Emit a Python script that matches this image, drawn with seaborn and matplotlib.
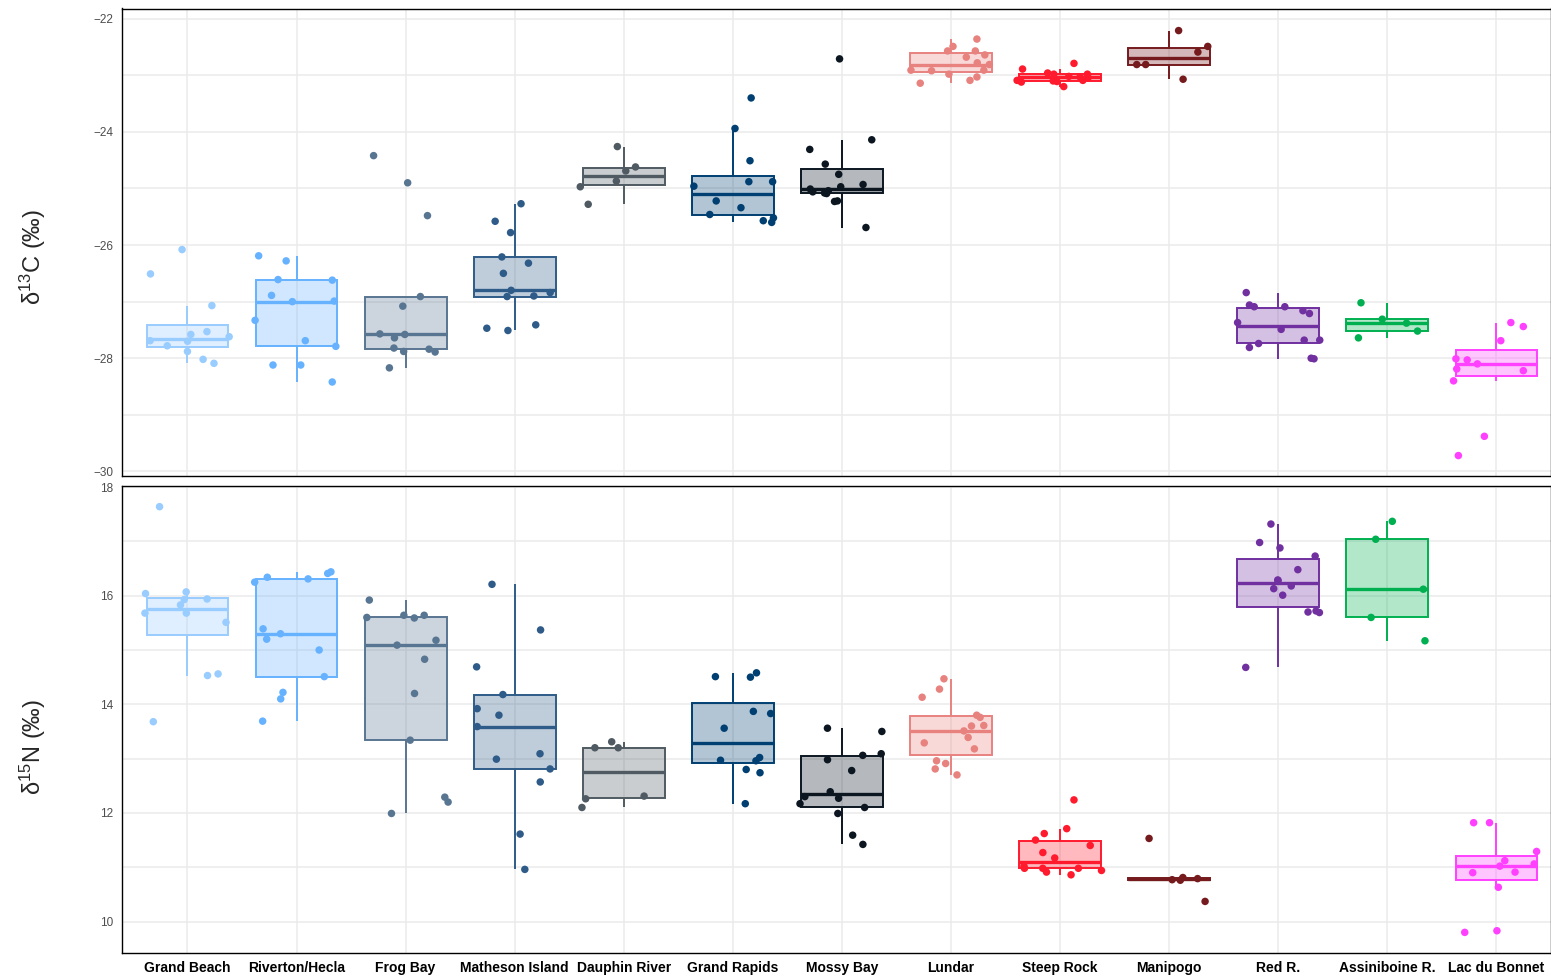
import numpy as np
import pandas as pd
import matplotlib
matplotlib.use("Agg")
import matplotlib.pyplot as plt
import seaborn as sns
from matplotlib.ticker import MultipleLocator
from matplotlib.colors import to_rgb

# ---------------- data ----------------
sites = ["Grand Beach", "Riverton/Hecla", "Frog Bay", "Matheson Island", "Dauphin River",
         "Grand Rapids", "Mossy Bay", "Lundar", "Steep Rock", "Manipogo", "Red R.",
         "Assiniboine R.", "Lac du Bonnet"]
site_colors = ["#99CCFF", "#66B2FF", "#587591", "#2E5B88", "#4F5A62", "#003F72", "#0B1621",
               "#E8827F", "#FF1A2E", "#751A1D", "#7030A0", "#00B050", "#FF40FF"]

# delta 13C (permil)
c13_grand_beach = [-26.51, -27.07, -26.08, -27.53, -27.62, -27.58, -27.70, -27.69, -27.78, -27.88, -28.02, -28.09]
c13_riverton = [-26.28, -26.19, -26.61, -26.62, -26.89, -27.00, -26.99, -27.33, -27.69, -27.79, -28.12, -28.12, -28.42]
c13_frog_bay = [-24.42, -24.90, -25.48, -26.91, -27.08, -27.57, -27.58, -27.64, -27.88, -27.82, -27.89, -27.84, -28.17]
c13_matheson = [-25.27, -25.58, -25.78, -26.21, -26.32, -26.50, -26.80, -26.90, -26.91, -26.84, -27.47, -27.41, -27.51]
c13_dauphin = [-24.26, -24.62, -24.69, -24.87, -24.97, -25.28]
c13_grand_rapids = [-23.40, -23.94, -24.51, -24.88, -24.88, -24.96, -25.22, -25.34, -25.46, -25.52, -25.60, -25.57]
c13_mossy_bay = [-22.71, -24.14, -24.31, -24.57, -24.75, -24.93, -24.97, -25.01, -25.04, -25.09, -25.08, -25.06,
                 -25.23, -25.22, -25.69]
c13_lundar = [-22.36, -22.49, -22.57, -22.57, -22.64, -22.68, -22.78, -22.81, -22.91, -22.91, -22.92, -22.98,
              -23.03, -23.09, -23.14]
c13_steep_rock = [-22.79, -22.89, -22.96, -22.98, -22.98, -23.02, -23.03, -23.04, -23.09, -23.09, -23.10, -23.11,
                  -23.12, -23.20]
c13_manipogo = [-22.21, -22.59, -22.49, -22.81, -22.81, -23.07]
c13_red = [-26.84, -27.09, -27.09, -27.06, -27.16, -27.21, -27.37, -27.49, -27.68, -27.68, -27.74, -27.81, -28.00, -28.01]
c13_assiniboine = [-27.02, -27.31, -27.38, -27.52, -27.64]
c13_lac_du_bonnet = [-27.37, -27.44, -27.69, -28.03, -28.01, -28.10, -28.22, -28.19, -28.40, -29.38, -29.72]

# delta 15N (permil)
n15_grand_beach = [17.64, 16.04, 15.93, 15.94, 15.83, 16.07, 15.68, 15.68, 15.51, 14.56, 14.53, 13.68]
n15_riverton = [16.44, 16.41, 16.34, 16.31, 16.25, 15.39, 15.30, 15.20, 15.00, 14.51, 14.22, 14.10, 13.69]
n15_frog_bay = [15.92, 15.64, 15.59, 15.60, 15.64, 15.09, 15.18, 14.83, 14.20, 13.34, 12.29, 12.20, 11.99]
n15_matheson = [16.21, 15.37, 14.69, 14.18, 13.92, 13.80, 13.59, 12.99, 13.09, 12.81, 12.57, 11.61, 10.96]
n15_dauphin = [13.31, 13.20, 13.20, 12.31, 12.26, 12.10]
n15_grand_rapids = [14.58, 14.51, 14.50, 13.87, 13.83, 13.56, 12.97, 13.02, 12.96, 12.80, 12.74, 12.17]
n15_mossy_bay = [13.50, 13.56, 13.06, 13.09, 12.98, 12.78, 12.39, 12.27, 12.30, 12.17, 12.10, 11.99, 11.59, 11.42]
n15_lundar = [14.47, 14.28, 14.13, 13.80, 13.76, 13.60, 13.61, 13.51, 13.39, 13.29, 13.18, 12.96, 12.91, 12.81, 12.70]
n15_steep_rock = [12.24, 11.71, 11.62, 11.50, 11.40, 11.27, 11.17, 10.98, 10.98, 11.02, 10.91, 10.98, 10.94, 10.86]
n15_manipogo = [11.53, 10.81, 10.76, 10.79, 10.77, 10.37]
n15_red = [17.32, 16.98, 16.88, 16.73, 16.48, 16.29, 16.28, 16.18, 16.13, 16.01, 15.69, 15.72, 15.70, 14.68]
n15_assiniboine = [17.37, 17.04, 16.12, 15.60, 15.17]
n15_lac_du_bonnet = [11.82, 11.82, 11.29, 11.12, 11.06, 11.02, 10.90, 10.91, 10.63, 9.83, 9.80]

c13_groups = [c13_grand_beach, c13_riverton, c13_frog_bay, c13_matheson, c13_dauphin, c13_grand_rapids,
              c13_mossy_bay, c13_lundar, c13_steep_rock, c13_manipogo, c13_red, c13_assiniboine, c13_lac_du_bonnet]
n15_groups = [n15_grand_beach, n15_riverton, n15_frog_bay, n15_matheson, n15_dauphin, n15_grand_rapids,
              n15_mossy_bay, n15_lundar, n15_steep_rock, n15_manipogo, n15_red, n15_assiniboine, n15_lac_du_bonnet]

c13_ticks = [-30, -28, -26, -24, -22]
n15_ticks = [10, 12, 14, 16, 18]


def make_frame(groups, col):
    rows = [(s, v) for s, g in zip(sites, groups) for v in g]
    return pd.DataFrame(rows, columns=["site", col])


df_c = make_frame(c13_groups, "d13C")
df_n = make_frame(n15_groups, "d15N")
pal = dict(zip(sites, site_colors))

# ---------------- style ----------------
sns.set_style("white")
plt.rcParams["font.family"] = ["Liberation Sans", "DejaVu Sans"]
plt.rcParams["mathtext.fontset"] = "custom"
plt.rcParams["mathtext.rm"] = "Liberation Sans"
plt.rcParams["mathtext.it"] = "Liberation Sans:italic"
plt.rcParams["mathtext.bf"] = "Liberation Sans:bold"
plt.rcParams["mathtext.default"] = "regular"

fig = plt.figure(figsize=(15.51, 9.77), dpi=100)
W, H = 1551, 977
ax1 = fig.add_axes([122 / W, 1 - 476.5 / H, (W - 122) / W, 468 / H])
ax2 = fig.add_axes([122 / W, 1 - 953 / H, (W - 122) / W, 467.5 / H])


def draw(ax, df, col, seed):
    sns.boxplot(data=df, x="site", y=col, hue="site", order=sites, hue_order=sites,
                palette=pal, width=0.75, showfliers=False, showcaps=False,
                linewidth=1.4, legend=False, ax=ax)
    for p in ax.patches:
        verts = p.get_path().vertices
        idx = int(round(verts[:, 0].mean()))
        if 0 <= idx < len(sites):
            rgb = to_rgb(site_colors[idx])
            p.set_facecolor((*rgb, 0.3))
            p.set_edgecolor((*rgb, 1.0))
            p.set_linewidth(1.4)
    for ln in ax.lines:
        xd = np.asarray(ln.get_xdata(), dtype=float)
        if xd.size == 0:
            continue
        idx = int(round(xd.mean()))
        if 0 <= idx < len(sites):
            ln.set_color(site_colors[idx])
            if xd.max() - xd.min() > 0.1:
                ln.set_linewidth(2.4)
                ln.set_solid_capstyle("butt")
            else:
                ln.set_linewidth(1.4)
    np.random.seed(seed)
    sns.stripplot(data=df, x="site", y=col, hue="site", order=sites, hue_order=sites,
                  palette=pal, jitter=0.4, size=5.4, linewidth=0, legend=False, ax=ax, zorder=3)


draw(ax1, df_c, "d13C", 7)
draw(ax2, df_n, "d15N", 11)

for ax in (ax1, ax2):
    ax.set_xlim(-0.6, 12.5)
    ax.set_axisbelow(True)
    ax.yaxis.set_minor_locator(MultipleLocator(1))
    ax.grid(True, which="both", axis="y", color="#EBEBEB", linewidth=1.1)
    ax.grid(True, which="major", axis="x", color="#EBEBEB", linewidth=1.1)
    ax.tick_params(which="minor", length=0)
    ax.tick_params(axis="y", which="major", length=4, width=0.9, color="#333333",
                   labelsize=8.5, labelcolor="#4D4D4D", pad=2)
    for s in ax.spines.values():
        s.set_color("black")
        s.set_linewidth(1.0)
    ax.set_xlabel("")

ax1.set_ylim(-30.09, -21.82)
ax1.set_yticks(c13_ticks)
ax1.tick_params(axis="x", bottom=False, labelbottom=False)
ax1.set_ylabel("δ$^{13}$C (‰)", fontsize=17)
ax1.yaxis.set_label_coords(-0.052, 0.47)

ax2.set_ylim(9.42, 18.03)
ax2.set_yticks(n15_ticks)
ax2.set_xticks(range(len(sites)))
ax2.set_xticklabels(sites, fontsize=10, fontweight="bold", color="black")
ax2.tick_params(axis="x", which="major", length=4, width=0.9, color="#333333", pad=2)
ax2.set_ylabel("δ$^{15}$N (‰)", fontsize=17)
ax2.yaxis.set_label_coords(-0.052, 0.44)

fig.savefig("out.png", dpi=100)
